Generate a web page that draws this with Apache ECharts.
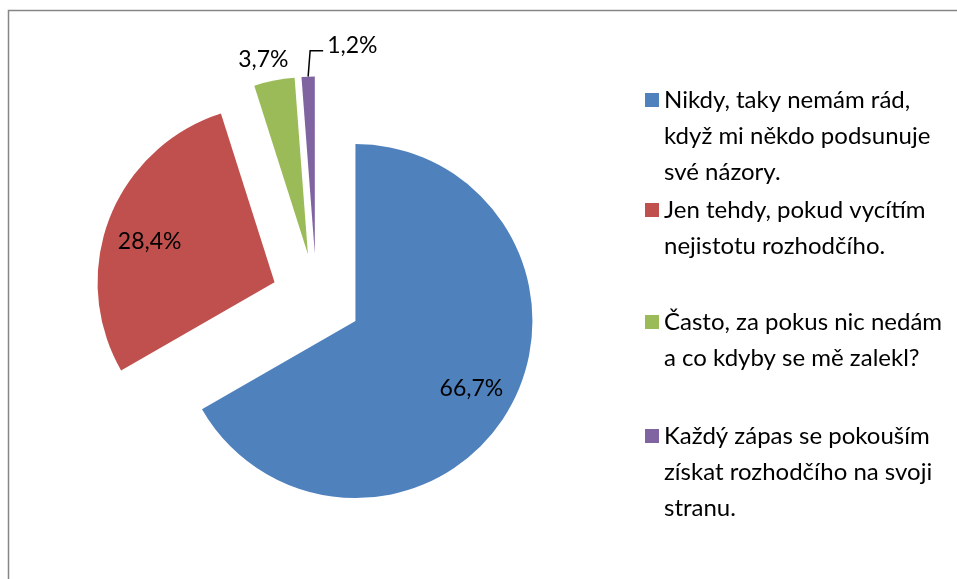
<!DOCTYPE html>
<html>
<head>
<meta charset="utf-8">
<script src="https://cdn.jsdelivr.net/npm/echarts@6/dist/echarts.min.js"></script>
<style>
  html, body { margin: 0; padding: 0; background: #fff; }
  #chart { width: 957px; height: 579px; }
</style>
</head>
<body>
<div id="chart"></div>
<script>
var categories = [
	'Nikdy, taky nemám rád,\nkdyž mi někdo podsunuje\nsvé názory.',
	'Jen tehdy, pokud vycítím\nnejistotu rozhodčího.',
	'Často, za pokus nic nedám\na co kdyby se mě zalekl?',
	'Každý zápas se pokouším\nzískat rozhodčího na svoji\nstranu.'
];
var values = [66.7, 28.4, 3.7, 1.2];
var colors = ['#4f81bd', '#c0504d', '#9bbb59', '#8064a2'];
var labelPlace = ['inside', 'inside', 'outside', 'outside'];
// y of the first text line of each legend entry
var legendLineY = [95, 205, 317, 431];

var FONT = 'Lato';
var LINE_H = 36;
var center = [316.5, 298.5];

var chart = echarts.init(document.getElementById('chart'));

var fmt = function(v) {
	return v.toFixed(1).replace('.', ',') + '%';
};

var pieData = [];
var labelData = [];
for (var i = 0; i < values.length; i++) {
	pieData.push({
		name: categories[i],
		value: values[i],
		selected: true,
		itemStyle: { color: colors[i] }
	});
	labelData.push({
		name: categories[i],
		value: values[i],
		selected: true,
		label: { position: labelPlace[i] },
		labelLine: {
			show: i == 3,
			length: i == 3 ? 26 : 14,
			length2: 0
		}
	});
}

// one legend per entry; blank lines in front push the marker onto the first line
var legends = [];
for (var j = 0; j < categories.length; j++) {
	var lines = categories[j].split('\n').length;
	legends.push({
		orient: 'vertical',
		left: 640,
		top: legendLineY[j] - (lines - 1) * LINE_H - LINE_H / 2,
		data: [categories[j]],
		icon: 'rect',
		itemWidth: 14,
		itemHeight: 14,
		selectedMode: false,
		formatter: (function(n) {
			return function(name) {
				return new Array(n).join('\n') + name;
			};
		})(lines),
		textStyle: {
			fontFamily: FONT,
			fontSize: 24,
			color: '#000',
			lineHeight: LINE_H
		}
	});
}

chart.setOption({
	animation: false,
	legend: legends,
	graphic: [{
		type: 'rect',
		shape: { x: 8.5, y: 10.5, width: 1200, height: 1200 },
		style: { fill: null, stroke: '#868686', lineWidth: 1.5 },
		silent: true
	}],
	series: [{
			name: 'pie',
			type: 'pie',
			center: center,
			radius: 177,
			startAngle: 90,
			clockwise: true,
			selectedMode: 'multiple',
			selectedOffset: 45,
			avoidLabelOverlap: false,
			label: { show: false },
			labelLine: { show: false },
			emphasis: { disabled: true },
			data: pieData
		},
		{
			name: 'labels',
			type: 'pie',
			center: center,
			radius: [85, 177],
			startAngle: 90,
			clockwise: true,
			selectedMode: 'multiple',
			selectedOffset: 45,
			avoidLabelOverlap: false,
			silent: true,
			itemStyle: { color: 'rgba(0,0,0,0)' },
			emphasis: { disabled: true },
			label: {
				show: true,
				fontFamily: FONT,
				fontSize: 23,
				color: '#000',
				formatter: function(p) {
					return fmt(p.value);
				}
			},
			labelLine: {
				lineStyle: { color: '#000', width: 1.5 }
			},
			labelLayout: function(p) {
				if (p.dataIndex == 1) {
					return { dy: 8 };
				}
				if (p.dataIndex == 2) {
					return { dx: 22, dy: -7 };
				}
				if (p.dataIndex == 3 && p.labelLinePoints) {
					var p0 = p.labelLinePoints[0];
					var p1 = [p0[0] + 2, p0[1] - 26];
					var p2 = [p1[0] + 13, p1[1]];
					return {
						labelLinePoints: [p0, p1, p2],
						dx: 25,
						dy: -5,
						align: 'left',
						verticalAlign: 'middle'
					};
				}
			},
			data: labelData
		}
	]
});
window.onresize = chart.resize;
</script>
</body>
</html>
